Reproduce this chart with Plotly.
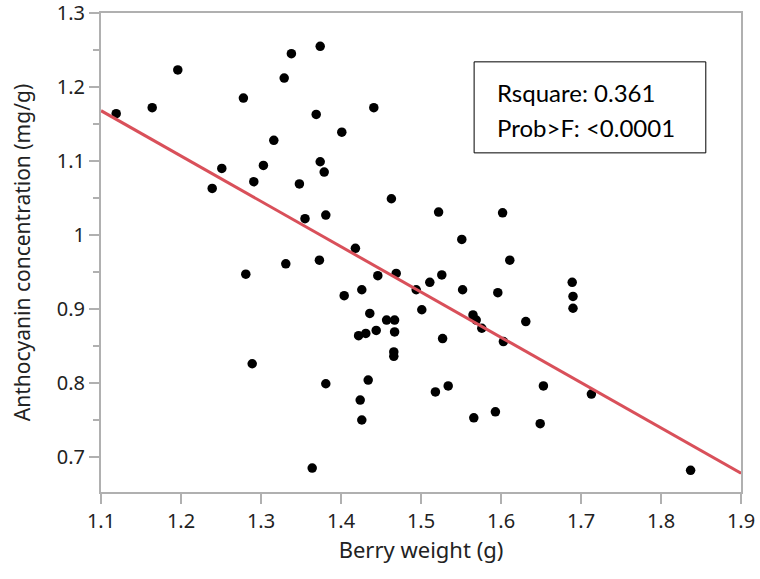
import plotly.graph_objects as go

# Berry weight (g) and anthocyanin concentration (mg/g)
berry_weight = [
    1.119, 1.164, 1.196, 1.278, 1.338, 1.374, 1.329, 1.369, 1.441, 1.401,
    1.316, 1.251, 1.239, 1.303, 1.291, 1.348, 1.374, 1.379, 1.463, 1.355,
    1.381, 1.522, 1.602, 1.551, 1.418, 1.331, 1.373, 1.281, 1.446, 1.469,
    1.494, 1.511, 1.501, 1.404, 1.426, 1.436, 1.457, 1.467, 1.444, 1.467,
    1.422, 1.431, 1.466, 1.466, 1.289, 1.381, 1.434, 1.424, 1.426, 1.364,
    1.611, 1.526, 1.552, 1.596, 1.689, 1.690, 1.690, 1.565, 1.569, 1.576,
    1.603, 1.631, 1.527, 1.534, 1.518, 1.653, 1.713, 1.566, 1.593, 1.649,
    1.837,
]
anthocyanin = [
    1.164, 1.172, 1.223, 1.185, 1.245, 1.255, 1.212, 1.163, 1.172, 1.139,
    1.128, 1.090, 1.063, 1.094, 1.072, 1.069, 1.099, 1.085, 1.049, 1.022,
    1.027, 1.031, 1.030, 0.994, 0.982, 0.961, 0.966, 0.947, 0.945, 0.948,
    0.926, 0.936, 0.899, 0.918, 0.926, 0.894, 0.885, 0.885, 0.871, 0.869,
    0.864, 0.867, 0.842, 0.836, 0.826, 0.799, 0.804, 0.777, 0.750, 0.685,
    0.966, 0.946, 0.926, 0.922, 0.936, 0.917, 0.901, 0.892, 0.885, 0.874,
    0.856, 0.883, 0.860, 0.796, 0.788, 0.796, 0.785, 0.753, 0.761, 0.745,
    0.682,
]

# Linear fit line end points
fit_x = [1.1, 1.9]
fit_y = [1.168, 0.678]

stats_lines = ["Rsquare: 0.361", "Prob>F: <0.0001"]

x_ticks = [1.1, 1.2, 1.3, 1.4, 1.5, 1.6, 1.7, 1.8, 1.9]
x_ticktext = ["1.1", "1.2", "1.3", "1.4", "1.5", "1.6", "1.7", "1.8", "1.9"]
y_ticks = [0.7, 0.8, 0.9, 1.0, 1.1, 1.2, 1.3]
y_ticktext = ["0.7", "0.8", "0.9", "1", "1.1", "1.2", "1.3"]

x_range = [1.1, 1.9]
y_range = [0.6527, 1.3]

fig = go.Figure()
fig.add_trace(go.Scatter(
    x=berry_weight, y=anthocyanin, mode="markers",
    marker=dict(color="black", size=9.5, line=dict(width=0)),
    showlegend=False, hoverinfo="x+y", cliponaxis=False,
))
fig.add_trace(go.Scatter(
    x=fit_x, y=fit_y, mode="lines",
    line=dict(color="#d9505a", width=3),
    showlegend=False, hoverinfo="skip",
))

fam = "Noto Sans, Open Sans, sans-serif"
axis_font = dict(family=fam, size=20, color="#222222")

fig.update_xaxes(
    range=x_range, tickvals=x_ticks, ticktext=x_ticktext, automargin=False,
    ticklabeloverflow="allow",
    showline=True, linecolor="#b0b0b0", linewidth=2, mirror=True,
    ticks="outside", ticklen=10, tickwidth=2, tickcolor="#b0b0b0",
    showgrid=False, zeroline=False, tickfont=axis_font,
    title=dict(text="Berry weight (g)", font=dict(family=fam, size=22, color="#222222"), standoff=10),
)
fig.update_yaxes(
    range=y_range, tickvals=y_ticks, ticktext=y_ticktext, automargin=False,
    ticklabeloverflow="allow",
    showline=True, linecolor="#b0b0b0", linewidth=2, mirror=True,
    ticks="outside", ticklen=10, tickwidth=2, tickcolor="#b0b0b0",
    minor=dict(dtick=0.05, ticks="outside", ticklen=6, tickcolor="#b0b0b0", tickwidth=2),
    showgrid=False, zeroline=False, tickfont=axis_font,
    title=dict(text="Anthocyanin concentration (mg/g)", font=dict(family=fam, size=21, color="#222222"), standoff=20),
)

fig.add_shape(type="rect", xref="paper", yref="paper",
              x0=0.583, x1=0.945, y0=0.708, y1=0.898,
              line=dict(color="black", width=1), fillcolor="white", layer="above")
box_font = dict(family="Lato, Carlito, sans-serif", size=24, color="black")
fig.add_annotation(xref="paper", yref="paper", x=0.616, y=0.835, text=stats_lines[0],
                   showarrow=False, xanchor="left", yanchor="middle", font=box_font)
fig.add_annotation(xref="paper", yref="paper", x=0.616, y=0.760, text=stats_lines[1],
                   showarrow=False, xanchor="left", yanchor="middle", font=box_font)

fig.update_layout(
    width=760, height=579,
    margin=dict(l=101, r=19, t=13, b=87),
    paper_bgcolor="white", plot_bgcolor="white",
)

fig.write_html("out.html")
